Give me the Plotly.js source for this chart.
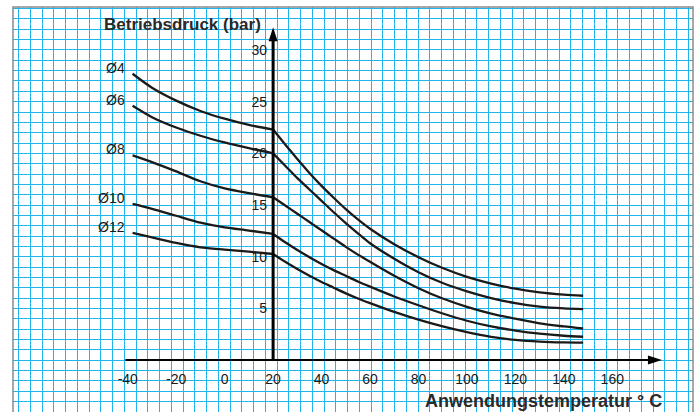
<!DOCTYPE html>
<html>
<head>
<meta charset="utf-8">
<script src="https://cdn.plot.ly/plotly-3.0.1.min.js"></script>
<style>html,body{margin:0;padding:0;background:#fff;}</style>
</head>
<body>
<div id="chart" style="width:698px;height:412px;"></div>
<script>
// ---- data ----
const temps = [-38, -30, -20, -10, 0, 10, 20, 25, 30, 35, 40, 45, 50, 55, 60, 70, 80, 90, 100, 110, 120, 130, 140, 148];
const d4  = [27.7, 26.35, 25.1, 24.1, 23.35, 22.75, 22.3, 20.85, 19.45, 18.1, 16.85, 15.7, 14.6, 13.6, 12.7, 11.2, 9.95, 8.9, 8.05, 7.4, 6.9, 6.55, 6.33, 6.22];
const d6  = [24.6, 23.5, 22.5, 21.7, 21.05, 20.5, 20.0, 18.8, 17.6, 16.5, 15.4, 14.3, 13.25, 12.25, 11.3, 9.8, 8.5, 7.45, 6.65, 6.0, 5.5, 5.17, 5.0, 4.93];
const d8  = [19.8, 19.15, 18.25, 17.3, 16.6, 16.15, 15.75, 14.95, 14.15, 13.35, 12.55, 11.75, 10.95, 10.2, 9.5, 8.15, 6.95, 5.95, 5.15, 4.5, 4.0, 3.55, 3.25, 3.05];
const d10 = [15.1, 14.63, 13.96, 13.29, 12.83, 12.53, 12.2, 11.4, 10.65, 9.95, 9.3, 8.7, 8.15, 7.6, 7.1, 6.15, 5.3, 4.5, 3.8, 3.25, 2.85, 2.55, 2.35, 2.25];
const d12 = [12.3, 11.86, 11.33, 10.91, 10.69, 10.49, 10.26, 9.5, 8.8, 8.15, 7.55, 7.0, 6.45, 5.95, 5.5, 4.65, 3.9, 3.25, 2.7, 2.25, 1.95, 1.78, 1.7, 1.68];
const seriesNames  = ['Ø4', 'Ø6', 'Ø8', 'Ø10', 'Ø12'];
const seriesValues = [d4, d6, d8, d10, d12];

const xTickVals = [-40, -20, 0, 20, 40, 60, 80, 100, 120, 140, 160];
const xTickText = ['-40', '-20', '0', '20', '40', '60', '80', '100', '120', '140', '160'];
const yTickVals = [5, 10, 15, 20, 25, 30];
const yTickText = ['5', '10', '15', '20', '25', '30'];

const yTitleText = 'Betriebsdruck (bar)';
const xTitleText = 'Anwendungstemperatur ° C';

// axis geometry (in data units)
const axisX = 20;          // pressure axis drawn at 20 °C
const xAxisStart = -41;
const xAxisEnd = 180.5;
const yAxisEnd = 32.2;

// ---- build ----
const FONT = 'Liberation Sans, Arial, Helvetica, sans-serif';
const INK = '#1a1a1a';
const GRID = '#1fb4ec';
const split = temps.indexOf(axisX);

const traces = [];
seriesValues.forEach((vals, i) => {
  [[0, split + 1], [split, temps.length]].forEach(([a, b]) => {
    traces.push({
      type: 'scatter', mode: 'lines', name: seriesNames[i],
      x: temps.slice(a, b), y: vals.slice(a, b),
      line: {color: INK, width: 2.3, shape: 'spline', smoothing: 0.8},
      hoverinfo: 'skip', showlegend: false
    });
  });
});

const annotations = seriesNames.map((n, i) => ({
  xref: 'x', yref: 'y', x: temps[0], y: seriesValues[i][0],
  text: n, showarrow: false, xanchor: 'right', yanchor: 'middle',
  xshift: -6, yshift: 6, font: {family: FONT, size: 14, color: INK}
}));
annotations.push({
  xref: 'x', yref: 'y', x: axisX, y: 32.42, text: '<b>' + yTitleText + '</b>',
  showarrow: false, xanchor: 'right', yanchor: 'middle', xshift: -10,
  font: {family: FONT, size: 17, color: '#2a2a2a'}
});
annotations.push({
  xref: 'x', yref: 'y', x: xAxisEnd, y: -3.95, text: '<b>' + xTitleText + '</b>',
  showarrow: false, xanchor: 'right', yanchor: 'middle', xshift: 2,
  font: {family: FONT, size: 18, color: '#2a2a2a'}
});

const shapes = [
  {type: 'line', xref: 'x', yref: 'y', x0: axisX, x1: axisX, y0: 0, y1: yAxisEnd - 1,
   line: {color: '#000', width: 3}},
  {type: 'line', xref: 'x', yref: 'y', x0: xAxisStart, x1: xAxisEnd - 3, y0: 0, y1: 0,
   line: {color: '#000', width: 2}},
  {type: 'path', xref: 'x', yref: 'y', xsizemode: 'pixel', ysizemode: 'pixel',
   xanchor: axisX, yanchor: yAxisEnd, path: 'M0,0 L-4.5,-14 L4.5,-14 Z',
   fillcolor: '#000', line: {width: 0}},
  {type: 'path', xref: 'x', yref: 'y', xsizemode: 'pixel', ysizemode: 'pixel',
   xanchor: xAxisEnd, yanchor: 0, path: 'M0,0 L-14,4.5 L-14,-4.5 Z',
   fillcolor: '#000', line: {width: 0}},
  {type: 'rect', xref: 'paper', yref: 'paper', x0: 0, x1: 1, y0: -0.05, y1: 1,
   line: {color: '#8c8c8c', width: 1.5}, layer: 'above'}
];

const layout = {
  width: 698, height: 412,
  margin: {l: 13, r: 5, t: 7, b: 0, pad: 0},
  paper_bgcolor: '#ffffff', plot_bgcolor: '#ffffff',
  showlegend: false,
  font: {family: FONT, size: 14, color: INK},
  xaxis: {
    range: [-87.36, 193.32], anchor: 'free', position: 0.1284,
    tickmode: 'array', tickvals: xTickVals, ticktext: xTickText, ticks: '', showgrid: false,
    zeroline: false, showline: false, ticklabelstandoff: 9,
    tickfont: {family: FONT, size: 14, color: INK},
    minor: {tick0: 21.7, dtick: 4.85, showgrid: true, gridcolor: GRID, gridwidth: 1, ticks: ''}
  },
  yaxis: {
    range: [-5.03, 34.16], anchor: 'free', position: 0.38235,
    tickmode: 'array', tickvals: yTickVals, ticktext: yTickText, ticks: '', showgrid: true,
    gridcolor: GRID, gridwidth: 1, zeroline: false, showline: false,
    ticklabelstandoff: 6,
    tickfont: {family: FONT, size: 14, color: INK},
    minor: {tick0: 0, dtick: 1, showgrid: true, gridcolor: GRID, gridwidth: 1, ticks: ''}
  },
  shapes: shapes,
  annotations: annotations
};

Plotly.newPlot('chart', traces, layout, {displayModeBar: false, staticPlot: true});
</script>
</body>
</html>
